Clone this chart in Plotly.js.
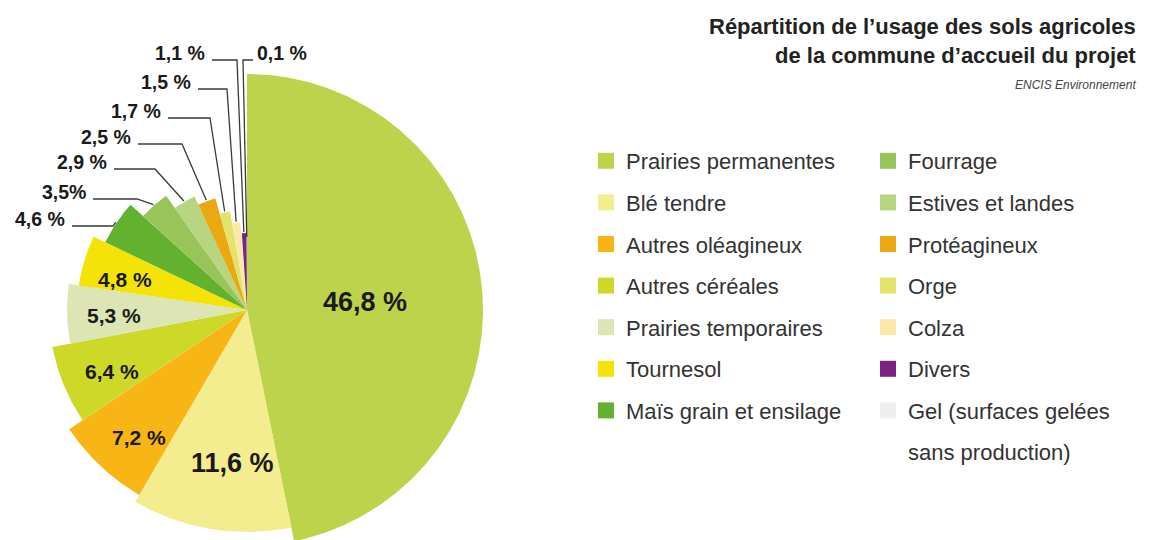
<!DOCTYPE html>
<html><head><meta charset="utf-8">
<script src="https://cdn.plot.ly/plotly-3.0.1.min.js"></script>
<style>html,body{margin:0;padding:0;background:#fff;} #chart{width:1153px;height:540px;}</style>
</head><body><div id="chart"></div>
<script>
// ---------- DATA ----------
const categories = ['Prairies permanentes','Blé tendre','Autres oléagineux','Autres céréales','Prairies temporaires','Tournesol','Maïs grain et ensilage','Fourrage','Estives et landes','Protéagineux','Orge','Colza','Divers','Gel (surfaces gelées sans production)'];
const shares = [46.8,11.6,7.2,6.4,5.3,4.8,4.6,3.5,2.9,2.5,1.7,1.5,1.1,0.1];
const shareLabels = ['46,8 %','11,6 %','7,2 %','6,4 %','5,3 %','4,8 %','4,6 %','3,5%','2,9 %','2,5 %','1,7 %','1,5 %','1,1 %','0,1 %'];
const titleLines = ['Répartition de l’usage des sols agricoles','de la commune d’accueil du projet'];
const sourceText = 'ENCIS Environnement';

// ---------- STYLE / GEOMETRY ----------
const sliceColors = ['#bdd34c','#f4ed8f','#f7b516','#cdd828','#dce5b3','#f3e306','#62b22f','#99c45a','#b8d581','#e9a912','#e2e36a','#fce9a8','#7a2381','#eeeeee'];
const sliceRadius = [236,222,214,198,180,170,157,140,125,116,100,88,77,72];
const center = {x:247, y:310};
// inside labels: [radius fraction, angle offset deg, font size]
const insideLabels = {0:[0.50,2,27],1:[0.69,-4,27],2:[0.78,-3,21],3:[0.75,-2,21],4:[0.74,-1,21],5:[0.74,-3,21]};
// outside labels: text edge x, y, elbow x, side
const outsideLabels = {
  6:{x:67,y:219,ex:113,side:'left'},
  7:{x:88,y:192,ex:137,side:'left'},
  8:{x:109,y:162,ex:155,side:'left'},
  9:{x:133,y:137,ex:182,side:'left'},
  10:{x:163,y:111,ex:210,side:'left'},
  11:{x:193,y:82,ex:227,side:'left'},
  12:{x:207,y:53,ex:237,side:'left'},
  13:{x:255,y:53,ex:243,side:'right'}
};
const fontMain = 'Liberation Sans, Arial, sans-serif';

const total = shares.reduce((a,b)=>a+b,0);
const rad = d => d*Math.PI/180;
const px = (r,a) => center.x + r*Math.sin(rad(a));
const py = (r,a) => center.y - r*Math.cos(rad(a));

const traces = [];
const annotations = [];
let start = 0;
const mids = [];
shares.forEach((v,i)=>{
  const span = v/total*360;
  const end = start+span;
  const xs=[center.x], ys=[center.y];
  const n = Math.max(2, Math.ceil(span/0.5));
  for(let k=0;k<=n;k++){const a=start+span*k/n; xs.push(px(sliceRadius[i],a)); ys.push(py(sliceRadius[i],a));}
  xs.push(center.x); ys.push(center.y);
  traces.push({type:'scatter',mode:'lines',x:xs,y:ys,fill:'toself',fillcolor:sliceColors[i],
    line:{width:0,color:sliceColors[i]},showlegend:false,hoverinfo:'text',text:categories[i]+' : '+shareLabels[i]});
  mids.push(start+span/2);
  start = end;
});

// inside labels
Object.keys(insideLabels).forEach(k=>{
  const i=+k, [f,off,sz]=insideLabels[k];
  const a = mids[i]+off, r = sliceRadius[i]*f;
  annotations.push({x:px(r,a),y:py(r,a),xref:'x',yref:'y',text:'<b>'+shareLabels[i]+'</b>',showarrow:false,
    font:{family:fontMain,size:sz,color:'#1a1a1a'},xanchor:'center',yanchor:'middle'});
});
// outside labels + leader lines
const lx=[], ly=[];
Object.keys(outsideLabels).forEach(k=>{
  const i=+k, o=outsideLabels[k];
  annotations.push({x:o.x,y:o.y,xref:'x',yref:'y',text:'<b>'+shareLabels[i]+'</b>',showarrow:false,
    font:{family:fontMain,size:19.5,color:'#1a1a1a'},xanchor:o.side==='left'?'right':'left',yanchor:'middle'});
  const sx = o.side==='left'? o.x+5 : o.x-2;
  const yy = o.y+7;
  lx.push(sx,o.ex,px(sliceRadius[i]+1,mids[i]),null);
  ly.push(yy,yy,py(sliceRadius[i]+1,mids[i]),null);
});
traces.push({type:'scatter',mode:'lines',x:lx,y:ly,line:{color:'#3a3a3a',width:1.3},showlegend:false,hoverinfo:'skip'});

// legend entries (long last name wrapped after "gelées")
const legendNames = categories.map(c=>c.replace(' sans production)',''));
categories.forEach((c,i)=>{
  traces.push({type:'scatter',mode:'markers',x:[null],y:[null],name:legendNames[i],legend:i<7?'legend':'legend2',legendgroup:'g'+i,
    marker:{symbol:'square',size:17,color:sliceColors[i]},hoverinfo:'skip'});
});
// second line of the last legend entry
annotations.push({x:906,y:452,xref:'x',yref:'y',text:categories[13].replace('Gel (surfaces gelées ',''),showarrow:false,
  xanchor:'left',yanchor:'middle',font:{family:fontMain,size:22,color:'#333'}});

// title and source
annotations.push({x:1138,y:41,xref:'x',yref:'y',text:'<b>'+titleLines.join('<br>')+'</b>',showarrow:false,xanchor:'right',yanchor:'middle',align:'right',
  font:{family:fontMain,size:22,color:'#222'}});
annotations.push({x:1138,y:85,xref:'x',yref:'y',text:'<i>'+sourceText+'</i>',showarrow:false,xanchor:'right',yanchor:'middle',
  font:{family:fontMain,size:12,color:'#444'}});

const legendCommon = {xanchor:'left',yanchor:'top',traceorder:'grouped',tracegroupgap:10,itemsizing:'trace',valign:'top',
  bgcolor:'rgba(0,0,0,0)',font:{family:fontMain,size:22,color:'#333'},itemclick:false,itemdoubleclick:false};

const layout = {
  width:1153,height:540,margin:{l:0,r:0,t:0,b:0},paper_bgcolor:'#fff',plot_bgcolor:'#fff',
  xaxis:{range:[0,1153],visible:false,fixedrange:true},
  yaxis:{range:[540,0],visible:false,fixedrange:true},
  legend:Object.assign({x:586/1153,y:1-140/540},legendCommon),
  legend2:Object.assign({x:868/1153,y:1-140/540},legendCommon),
  annotations:annotations,
  showlegend:true,hovermode:'closest'
};
Plotly.newPlot('chart',traces,layout,{displayModeBar:false});
</script></body></html>
